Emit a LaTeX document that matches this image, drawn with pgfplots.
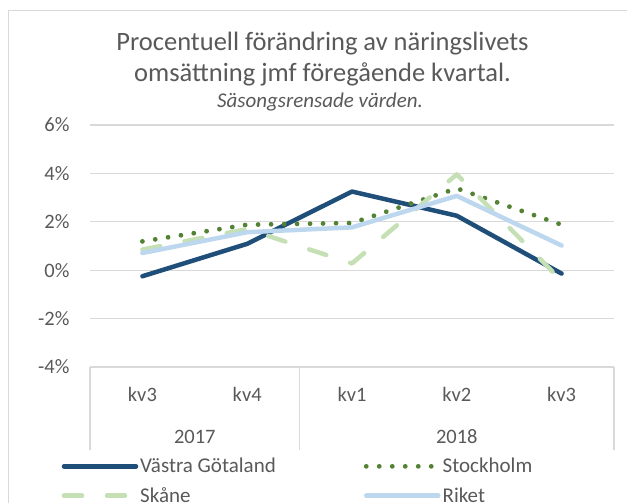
\documentclass[border=0pt]{standalone}
\usepackage{pgfplots}
\pgfplotsset{compat=1.18}
\usepackage{fontspec}
\setmainfont{Carlito}
\definecolor{txt}{HTML}{595959}
\definecolor{gridc}{HTML}{D9D9D9}
\definecolor{vg}{HTML}{1F4E79}
\definecolor{sth}{HTML}{548235}
\definecolor{sk}{HTML}{C5E0B4}
\definecolor{rk}{HTML}{BDD7EE}
\pgfplotstableread{
x vg sth sk rk
0.5 -0.25 1.19 0.85 0.71
1.5 1.09 1.88 1.70 1.57
2.5 3.25 1.95 0.28 1.77
3.5 2.25 3.38 3.96 3.07
4.5 -0.14 1.88 -0.44 1.02
}\data
\begin{document}
\begin{tikzpicture}
\path[use as bounding box] (0bp,0bp) rectangle (627bp,503bp);
\draw[gridc, line width=1bp] (8bp,0bp) -- (8bp,492bp) -- (627bp,492bp);
\node[anchor=base, text=txt, font=\fontsize{26.5bp}{30bp}\selectfont] at (322.5bp,452bp) {Procentuell förändring av näringslivets};
\node[anchor=base, text=txt, font=\fontsize{26.5bp}{30bp}\selectfont] at (322.5bp,421bp) {omsättning jmf föregående kvartal.};
\node[anchor=base, text=txt, font=\fontsize{21bp}{24bp}\selectfont\itshape] at (320bp,395bp) {Säsongsrensade värden.};
\begin{axis}[
  at={(90bp,136bp)}, anchor=south west,
  scale only axis, width=524bp, height=242bp,
  xmin=0, xmax=5, ymin=-4, ymax=6,
  axis line style={draw=none},
  clip=false,
  ymajorgrids,
  grid style={gridc, line width=1.2bp},
  ytick={-4,-2,0,2,4,6},
  yticklabels={-4\%,-2\%,0\%,2\%,4\%,6\%},
  xtick={0.5,1.5,2.5,3.5,4.5},
  xticklabels={kv3,kv4,kv1,kv2,kv3},
  major tick length=0pt,
  tick style={draw=none},
  tick label style={text=txt, font=\fontsize{20.5bp}{24bp}\selectfont},
  yticklabel style={xshift=-17bp},
  xticklabel style={yshift=-17bp},
  legend columns=2,
  legend style={at={(-0.06,-0.36)}, anchor=north west, draw=none, fill=none,
    font=\fontsize{21bp}{25bp}\selectfont, text=txt,
    /tikz/every even column/.append style={column sep=86bp},
    row sep=9bp},
  legend cell align=left,
  legend image code/.code={\draw[#1] (0bp,0bp) -- (72bp,0bp);},
]
\draw[gridc, line width=1.2bp] (axis cs:0,-4) -- ++(0bp,-83bp);
\draw[gridc, line width=1.2bp] (axis cs:2,-4) -- ++(0bp,-83bp);
\draw[gridc, line width=1.2bp] (axis cs:5,-4) -- ++(0bp,-83bp);
\node[text=txt, font=\fontsize{20.5bp}{24bp}\selectfont] at ([yshift=-70bp]axis cs:1,-4) {2017};
\node[text=txt, font=\fontsize{20.5bp}{24bp}\selectfont] at ([yshift=-70bp]axis cs:3.5,-4) {2018};
\addplot[vg, line width=4.5bp, line join=round, line cap=round] table[x=x,y=vg]{\data};
\addlegendentry{Västra Götaland}
\addplot[sth, line width=4.8bp, line cap=round, dash pattern=on 0bp off 13bp] table[x=x,y=sth]{\data};
\addlegendentry{Stockholm}
\addplot[sk, line width=4.5bp, line cap=round, line join=round, dash pattern=on 18bp off 25bp] table[x=x,y=sk]{\data};
\addlegendentry{Skåne}
\addplot[rk, line width=4.5bp, line join=round, line cap=round] table[x=x,y=rk]{\data};
\addlegendentry{Riket}
\end{axis}
\end{tikzpicture}
\end{document}
